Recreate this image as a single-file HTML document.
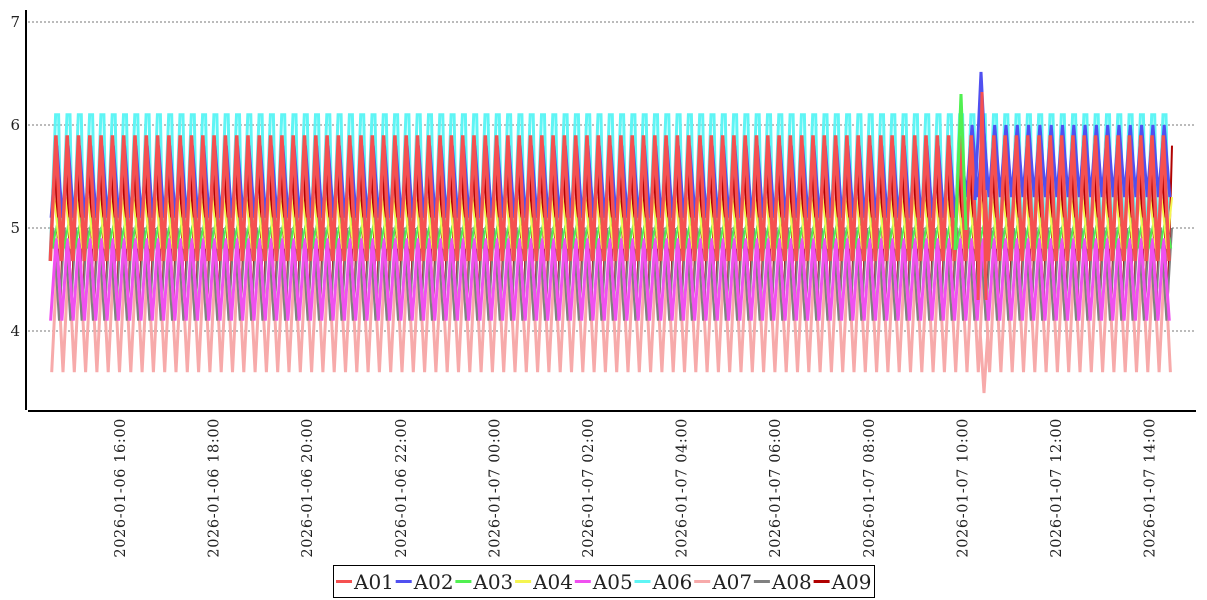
<!DOCTYPE html>
<html><head><meta charset="utf-8"><style>
html,body{margin:0;padding:0;background:#fff;width:1207px;height:600px;overflow:hidden}
svg{display:block}
text{font-family:"DejaVu Serif","Liberation Serif",serif;fill:#222}
</style></head><body>
<svg id="s" width="1207" height="600" xmlns="http://www.w3.org/2000/svg">
<g stroke="#777" stroke-dasharray="2,2" stroke-width="1">
<line x1="28" y1="22" x2="1195" y2="22"/><line x1="28" y1="125" x2="1195" y2="125"/>
<line x1="28" y1="228" x2="1195" y2="228"/><line x1="28" y1="331" x2="1195" y2="331"/>
</g>
<g id="series" fill="none" stroke-width="3" stroke-linejoin="miter"></g>
<line x1="26" y1="10" x2="26" y2="410" stroke="#000" stroke-width="2"/>
<line x1="28" y1="411" x2="1196" y2="411" stroke="#000" stroke-width="2"/>
<g font-size="15" text-anchor="end">
<text x="20" y="27">7</text><text x="20" y="130">6</text><text x="20" y="233">5</text><text x="20" y="336">4</text>
</g>
<g id="xt" font-size="14.5" letter-spacing="0.6"></g>
<rect x="333.5" y="565.5" width="541" height="32" fill="#fff" stroke="#000"/>
<g id="leg" font-size="20"></g>
</svg>
<script>
var Y=function(v){return 125+(6-v)*103;};
var S=[
["A09","#b00000",4.2,5.8,0.8,2],
["A07","#f7aaaa",3.6,4.7,0.3,3],
["A08","#808080",4.1,5.0,0.6,2],
["A05","#f050f0",4.1,4.9,0.1,3],
["A06","#5ff5f5",4.68,6.1,0.0,3],
["A03","#50f050",4.8,5.1,0.45,2],
["A04","#f5f550",4.8,5.3,0.7,2],
["A02","#5050f0",5.1,5.8,0.2,3],
["A01","#f55050",4.68,5.9,0.05,3.5]];
var g=document.getElementById('series'),ns="http://www.w3.org/2000/svg";
var x0=50,x1=1172,P=11.3;
S.forEach(function(s){
 var d="",lo=s[2],hi=s[3];
 for(var x=x0;x<=x1;x+=P/2){
  var k=Math.round((x-x0)/(P/2));
  var ph=((k+(s[4]>0.5?1:0))%2);
  var l=lo,h=hi;
  if(s[0]=="A02"&&x>960){l=5.3;h=6.0;}
  var v=ph?h:l;
  var xx=x+s[4]*P/2;
  if(xx>x1)xx=x1;
  d+=(d?"L":"M")+xx.toFixed(1)+","+Y(v).toFixed(1);
  if(s[0]=="A06"&&ph) d+="L"+(xx+3).toFixed(1)+","+Y(v).toFixed(1);
 }
 var p=document.createElementNS(ns,'path');p.setAttribute('d',d);p.setAttribute('stroke',s[1]);p.setAttribute('stroke-width',s[5]);g.appendChild(p);
});
function ln(pts,c){var p=document.createElementNS(ns,'path');p.setAttribute('d',pts);p.setAttribute('stroke',c);p.setAttribute('fill','none');p.setAttribute('stroke-width','3');g.appendChild(p);}
ln("M955,250L961,94L966,230","#50f050");
ln("M975,200L981,72L987,190","#5050f0");
ln("M978,300L982,92L986,300","#f55050");
ln("M980,330L984,393L988,330","#f7aaaa");
var xt=document.getElementById('xt');
var labs=["2026-01-06  16:00","2026-01-06  18:00","2026-01-06  20:00","2026-01-06  22:00","2026-01-07  00:00","2026-01-07  02:00","2026-01-07  04:00","2026-01-07  06:00","2026-01-07  08:00","2026-01-07  10:00","2026-01-07  12:00","2026-01-07  14:00"];
labs.forEach(function(t,i){var x=120+i*93.6;
 var tx=document.createElementNS(ns,'text');tx.setAttribute('transform','translate('+(x+5)+',418) rotate(-90)');tx.setAttribute('text-anchor','end');tx.setAttribute('xml:space','preserve');tx.textContent=t;xt.appendChild(tx);
});
var leg=document.getElementById('leg');
var L=[["A01","#f55050"],["A02","#5050f0"],["A03","#50f050"],["A04","#f5f550"],["A05","#f050f0"],["A06","#5ff5f5"],["A07","#f7aaaa"],["A08","#808080"],["A09","#b00000"]];
L.forEach(function(l,i){var x=336+i*59.7;
 var r=document.createElementNS(ns,'rect');r.setAttribute('x',x);r.setAttribute('y',580);r.setAttribute('width',16);r.setAttribute('height',3);r.setAttribute('fill',l[1]);leg.appendChild(r);
 var t=document.createElementNS(ns,'text');t.setAttribute('x',x+18);t.setAttribute('y',589);t.textContent=l[0];leg.appendChild(t);
});
</script>
</body></html>
